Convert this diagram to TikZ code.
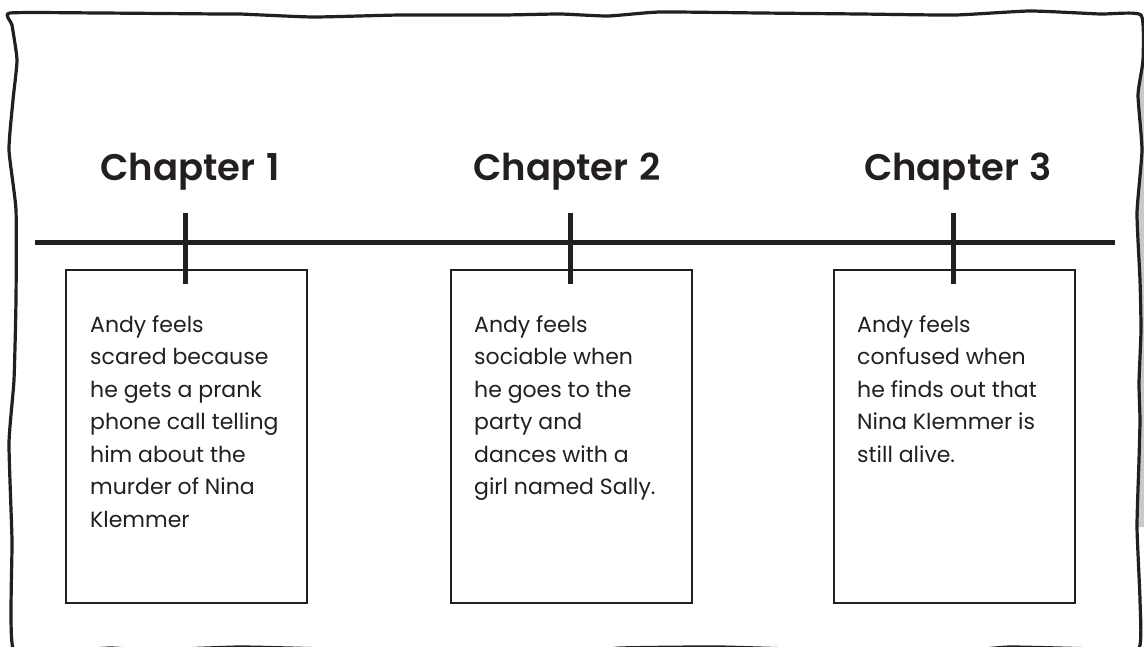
\documentclass[tikz,border=0pt]{standalone}
\usepackage{fontspec}
\setmainfont{Poppins}
\newfontfamily\headfont{Poppins SemiBold}
\definecolor{ink}{HTML}{231F20}
\definecolor{shadow}{HTML}{C9C9C9}
\tikzset{
  frameline/.style={draw=ink, line width=3.2pt, line join=round},
  tline/.style={draw=ink, line width=5pt},
  tickline/.style={draw=ink, line width=5pt},
  card/.style={draw=ink, line width=2pt, fill=white, minimum width=241pt, minimum height=333pt, inner sep=0pt},
  chap/.style={text=ink, font=\fontsize{37}{40}\selectfont\headfont, anchor=base, inner sep=0pt},
  body/.style={text=ink, font=\fontsize{22}{32.5}\selectfont, anchor=north west, align=left, inner sep=0pt}
}
\begin{document}
\begin{tikzpicture}[x=1pt,y=-1pt]
\useasboundingbox (0,0) rectangle (1144,646);
\clip (0,0) rectangle (1144,646);
\fill[white] (0,0) rectangle (1144,646);
% shadow strip at right
\fill[shadow] (1143,60) -- plot[smooth, tension=0.3] coordinates {(1143,60) (1138,95) (1142,150) (1137,213) (1140,280) (1141,330) (1139,383) (1140,420) (1139,460) (1137,527)} -- (1150,527) -- (1150,60) -- cycle;
% wavy frame
\draw[frameline] plot[smooth cycle, tension=0.3] coordinates {
  (10,13) (100,13) (220,14) (240,14) (313,17) (400,15) (503,15) (560,14) (608,16) (660,12) (760,13) (860,14) (955,15) (1030,11) (1100,14) (1141,15)
  (1143,60) (1138,95) (1142,150) (1137,213) (1140,280) (1141,330) (1139,383) (1140,420) (1139,460) (1137,527) (1140,600) (1139,648)
  (1100,649) (1010,647) (960,651) (860,651) (720,647) (620,648) (590,652) (480,651) (330,649) (240,647) (150,650) (110,648) (60,651)
  (13,648) (12,540) (9,443) (14,380) (16,300) (16,210) (9,150) (13,100) (17,60) (12,25)
};
% headings
\node[chap] (h1) at (190,180) {Chapter\ \hspace{0.05em}1};
\node[chap] (h2) at (567,180) {Chapter\ \hspace{0.05em}2};
\node[chap] (h3) at (958,180) {Chapter\ \hspace{0.05em}3};
% timeline
\coordinate (L) at (35,242);
\coordinate (R) at (1115,242);
\draw[tline] (L) -- (R);
% cards
\node[card] (b1) at (186.5,436.5) {};
\node[card] (b2) at (571,436.5) {};
\node[card] (b3) at (954.5,436.5) {};
% ticks
\coordinate (t1a) at (185,213); \coordinate (t1b) at (185,284);
\coordinate (t2a) at (570,213); \coordinate (t2b) at (570,284);
\coordinate (t3a) at (953,213); \coordinate (t3b) at (953,284);
\draw[tickline] (t1a) -- (t1b);
\draw[tickline] (t2a) -- (t2b);
\draw[tickline] (t3a) -- (t3b);
% texts
\node[body] (x1) at (90,315) {Andy feels\\scared because\\he gets a prank\\phone call telling\\him about the\\murder of Nina\\Klemmer};
\node[body] (x2) at (474,315) {Andy feels\\sociable when\\he goes to the\\party and\\dances with a\\girl named Sally.};
\node[body] (x3) at (857,315) {Andy feels\\confused when\\he finds out that\\Nina Klemmer is\\still alive.};
\end{tikzpicture}
\end{document}
